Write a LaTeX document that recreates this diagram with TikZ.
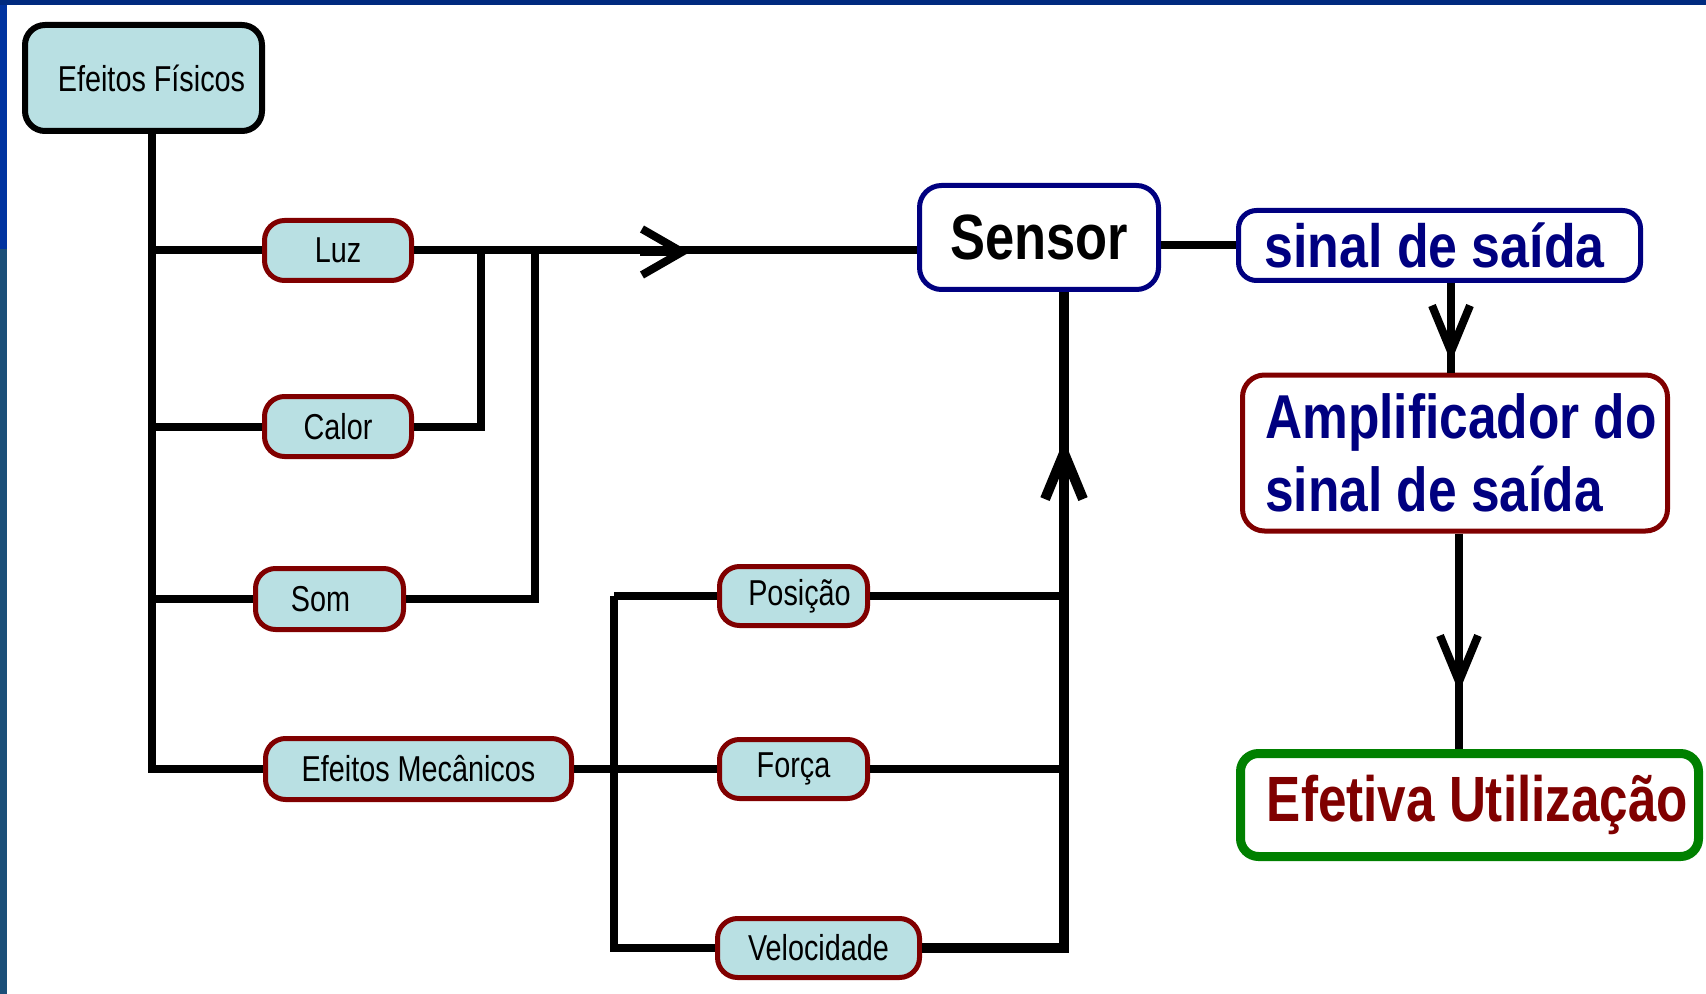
\documentclass[tikz,border=0pt]{standalone}
\usepackage{fontspec}
\setmainfont{Liberation Sans}
\newfontfamily\lblfont[FakeStretch=0.8]{Liberation Sans}
\newfontfamily\senfont[FakeStretch=0.82]{Liberation Sans}
\newfontfamily\sinfont[FakeStretch=0.85]{Liberation Sans}
\newfontfamily\ampfont[FakeStretch=0.83]{Liberation Sans}
\newfontfamily\effont[FakeStretch=0.8]{Liberation Sans}
\usetikzlibrary{arrows.meta}
\definecolor{myNavy}{RGB}{0,0,128}
\definecolor{myRed}{RGB}{128,0,0}
\definecolor{myGreen}{RGB}{0,128,0}
\definecolor{myFill}{RGB}{185,224,227}
\definecolor{barTop}{RGB}{0,42,127}
\definecolor{barLeftA}{RGB}{0,51,160}
\definecolor{barLeftB}{RGB}{27,79,120}
\tikzset{
  smallbox/.style={draw=myRed, line width=2.5pt, fill=myFill, rounded corners=10pt,
    inner sep=0pt, font=\lblfont\fontsize{18}{20}\selectfont},
  bigbox/.style={line width=2.5pt, fill=white, rounded corners=11pt, inner sep=0pt},
  conn/.style={line width=4pt, black},
  hbarb/.style={-{Straight Barb[length=20pt,width=23pt]}},
  vbarb/.style={-{Straight Barb[length=23pt,width=19pt]}}
}
\begin{document}
\begin{tikzpicture}[x=0.5pt,y=-0.5pt]
\useasboundingbox (0,0) rectangle (1706,994);
\fill[white] (0,0) rectangle (1706,994);
% frame bars
\fill[barLeftA] (0,0) rectangle (7,249);
\fill[barLeftB] (0,249) rectangle (7,994);
\fill[barTop] (0,0) rectangle (1706,5);

% nodes
\node[draw=black, line width=3pt, fill=myFill, rounded corners=10pt, inner sep=0pt,
  minimum width=118.5pt, minimum height=53pt, font=\lblfont\fontsize{18}{20}\selectfont]
  (fis) at (143.5,78) {\hspace*{8pt}Efeitos Físicos};
\node[smallbox, minimum width=73.5pt, minimum height=30pt] (luz) at (338,250.5) {Luz};
\node[smallbox, minimum width=73.5pt, minimum height=30pt] (calor) at (338,426.5) {Calor};
\node[smallbox, minimum width=74pt, minimum height=30.5pt] (som) at (329.5,599) {Som\hspace*{9pt}};
\node[smallbox, minimum width=153pt, minimum height=30.5pt] (mec) at (418.5,769) {Efeitos Mecânicos};
\node[smallbox, minimum width=74pt, minimum height=29.5pt] (pos) at (793.5,596) {\hspace*{6pt}Posição};
\node[smallbox, minimum width=74pt, minimum height=29.5pt] (forca) at (793.5,769) {Força};
\node[smallbox, minimum width=101pt, minimum height=29.5pt] (vel) at (818.5,948) {Velocidade};

\node[bigbox, draw=myNavy, minimum width=119.5pt, minimum height=52pt,
  font=\senfont\bfseries\fontsize{32}{36}\selectfont] (sensor) at (1039,237.5) {Sensor};
\node[bigbox, draw=myNavy, minimum width=201pt, minimum height=35pt, rounded corners=9pt,
  text=myNavy, font=\sinfont\bfseries\fontsize{30.5}{34}\selectfont] (sinal) at (1439.5,245.5) {sinal de saída\hspace*{5pt}};
\node[bigbox, draw=myRed, minimum width=212.5pt, minimum height=78pt, align=left,
  text=myNavy, font=\ampfont\bfseries\fontsize{31}{36.5}\selectfont] (amp) at (1455,453)
  {\hspace*{6pt}Amplificador do\\\hspace*{6pt}sinal de saída};
\node[bigbox, draw=myGreen, line width=4.5pt, minimum width=229pt, minimum height=51.5pt,
  rounded corners=9pt, text=myRed, font=\effont\bfseries\fontsize{32}{36}\selectfont]
  (efet) at (1469.5,805) {\hspace*{8pt}Efetiva Utilização};

% helper coordinates
\coordinate (t) at (152,0);
\coordinate (jc) at (481,252);
\coordinate (js) at (535,252);
\coordinate (a1) at (690,252);
\coordinate (tm) at (614,0);
\coordinate (ts) at (1064,440);
\coordinate (xa) at (1451,362);
\coordinate (xb) at (1459,692);

% left trunk
\draw[conn] (fis.south -| t) |- (mec.west);
\draw[conn] (luz.west -| t) -- (luz.west);
\draw[conn] (calor.west -| t) -- (calor.west);
\draw[conn] (som.west -| t) -- (som.west);

% light / heat / sound to sensor
\draw[conn] (luz.east) -- (luz.east -| sensor.west);
\draw[conn, hbarb] ([xshift=-25pt]a1) -- (a1);
\draw[conn] (calor.east) -| (jc);
\draw[conn] (som.east) -| (js);

% mechanical effects
\draw[conn] (mec.east) -- (mec.east -| tm);
\draw[conn] (pos.west -| tm) -- (pos.west);
\draw[conn] (pos.west -| tm) |- (vel.west);
\draw[conn] (forca.west -| tm) -- (forca.west);

% to sensor from below
\draw[conn] (pos.east) -- (pos.east -| ts);
\draw[conn] (forca.east) -- (forca.east -| ts);
\draw[conn, line width=5pt] (vel.east) -| (ts |- sensor.south);
\draw[conn, line width=5pt, vbarb] ([yshift=-25pt]ts) -- (ts);

% right chain
\draw[conn] (sinal.west -| sensor.east) -- (sinal.west);
\draw[conn] (sinal.south -| xa) -- (amp.north -| xa);
\draw[conn, vbarb] ([yshift=25pt]xa) -- (xa);
\draw[conn] (amp.south -| xb) -- (efet.north -| xb);
\draw[conn, vbarb] ([yshift=25pt]xb) -- (xb);
\end{tikzpicture}
\end{document}
